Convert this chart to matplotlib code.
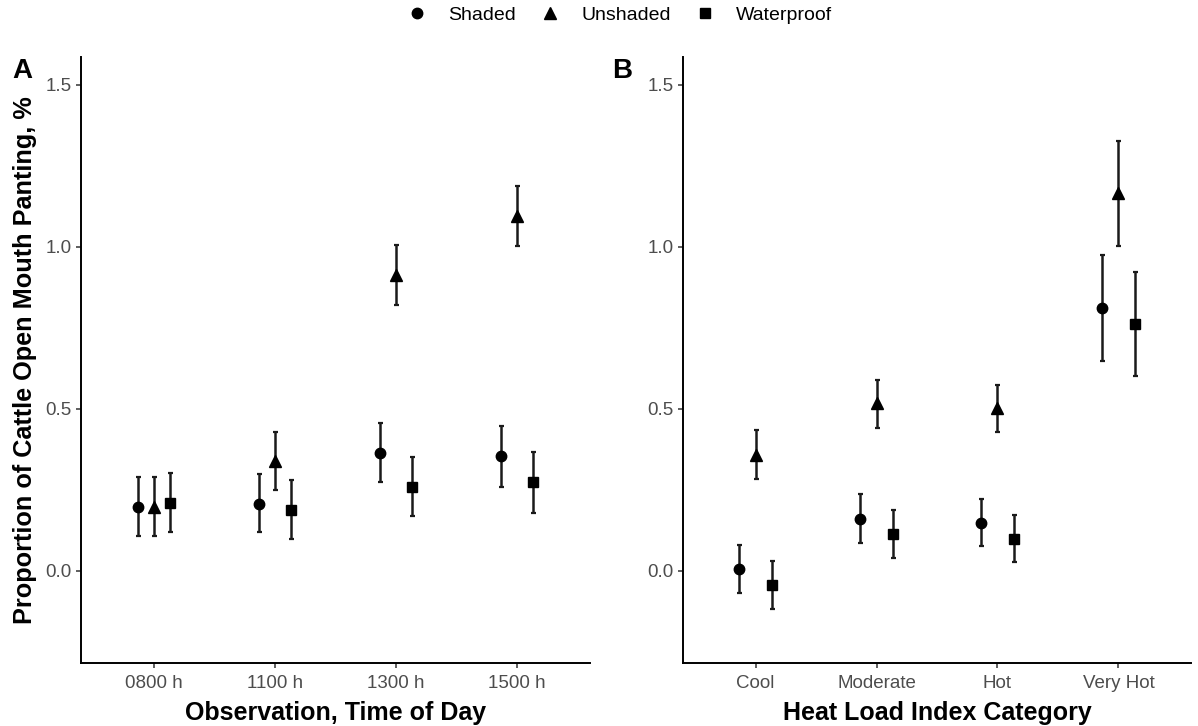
import matplotlib

matplotlib.use("Agg")
import matplotlib.pyplot as plt
from matplotlib.lines import Line2D

plt.rcParams["font.family"] = ["Liberation Sans", "DejaVu Sans"]

TREATMENTS = ["Shaded", "Unshaded", "Waterproof"]
MARKERS = ["o", "^", "s"]
MSIZE = [7.5, 8.5, 7.5]

# Panel A: observation time
TIMES = ["0800 h", "1100 h", "1300 h", "1500 h"]
A_MEAN = {
    "Shaded": [0.198, 0.208, 0.365, 0.354],
    "Unshaded": [0.198, 0.340, 0.914, 1.096],
    "Waterproof": [0.211, 0.188, 0.259, 0.273],
}
A_LO = {
    "Shaded": [0.109, 0.120, 0.274, 0.260],
    "Unshaded": [0.109, 0.250, 0.821, 1.003],
    "Waterproof": [0.120, 0.099, 0.169, 0.180],
}
A_HI = {
    "Shaded": [0.289, 0.299, 0.458, 0.448],
    "Unshaded": [0.289, 0.430, 1.006, 1.188],
    "Waterproof": [0.302, 0.281, 0.353, 0.368],
}

# Panel B: heat load index category
HLI = ["Cool", "Moderate", "Hot", "Very Hot"]
B_MEAN = {
    "Shaded": [0.005, 0.161, 0.147, 0.810],
    "Unshaded": [0.358, 0.518, 0.504, 1.166],
    "Waterproof": [-0.043, 0.113, 0.099, 0.762],
}
B_LO = {
    "Shaded": [-0.069, 0.086, 0.077, 0.649],
    "Unshaded": [0.285, 0.442, 0.430, 1.004],
    "Waterproof": [-0.118, 0.039, 0.027, 0.602],
}
B_HI = {
    "Shaded": [0.081, 0.237, 0.222, 0.975],
    "Unshaded": [0.435, 0.589, 0.575, 1.327],
    "Waterproof": [0.031, 0.188, 0.172, 0.924],
}

DODGE = [-0.133, 0.0, 0.133]


def draw_panel(ax, cats, mean, lo, hi, xlabel):
    for k, (t, m) in enumerate(zip(TREATMENTS, MARKERS)):
        xs = [i + 1 + DODGE[k] for i in range(len(cats))]
        ys = mean[t]
        err = [[y - l for y, l in zip(ys, lo[t])], [h - y for y, h in zip(ys, hi[t])]]
        ax.errorbar(xs, ys, yerr=err, fmt=m, color="black", ecolor="#1a1a1a",
                    markersize=MSIZE[k], elinewidth=1.8, capsize=1.8, capthick=1.6)
    ax.set_xlim(0.4, len(cats) + 0.6)
    ax.set_ylim(-0.284, 1.586)
    ax.set_xticks(range(1, len(cats) + 1))
    ax.set_xticklabels(cats)
    ax.set_yticks([0.0, 0.5, 1.0, 1.5])
    ax.set_yticklabels(["0.0", "0.5", "1.0", "1.5"])
    ax.tick_params(colors="#333333", labelsize=13.5, length=3.5, width=1.1,
                   labelcolor="#4d4d4d", pad=3.5)
    ax.tick_params(axis="x", pad=5.5)
    for s in ["top", "right"]:
        ax.spines[s].set_visible(False)
    for s in ["left", "bottom"]:
        ax.spines[s].set_linewidth(1.4)
    ax.set_xlabel(xlabel, fontsize=18, fontweight="bold", labelpad=6)


fig = plt.figure(figsize=(11.98, 7.26), dpi=100)
ax_a = fig.add_axes([81 / 1198, 1 - 663 / 726, (590 - 81) / 1198, (663 - 57) / 726])
ax_b = fig.add_axes([683 / 1198, 1 - 663 / 726, (1191 - 683) / 1198, (663 - 57) / 726])

draw_panel(ax_a, TIMES, A_MEAN, A_LO, A_HI, "Observation, Time of Day")
draw_panel(ax_b, HLI, B_MEAN, B_LO, B_HI, "Heat Load Index Category")
ax_a.set_ylabel("Proportion of Cattle Open Mouth Panting, %", fontsize=18.2,
                fontweight="bold", labelpad=6)

fig.text(12 / 1198, 1 - 71 / 726, "A", fontsize=20, fontweight="bold", va="center")
fig.text(612 / 1198, 1 - 71 / 726, "B", fontsize=20, fontweight="bold", va="center")

handles = [Line2D([], [], linestyle="none", marker=m, color="black", markersize=s)
           for m, s in zip(MARKERS, MSIZE)]
fig.legend(handles, TREATMENTS, loc="center", bbox_to_anchor=(615 / 1198, 1 - 15 / 726),
           ncol=3, frameon=False, fontsize=14, handletextpad=0.6, columnspacing=0.75,
           borderaxespad=0, borderpad=0)

fig.savefig("out.png", dpi=100)
